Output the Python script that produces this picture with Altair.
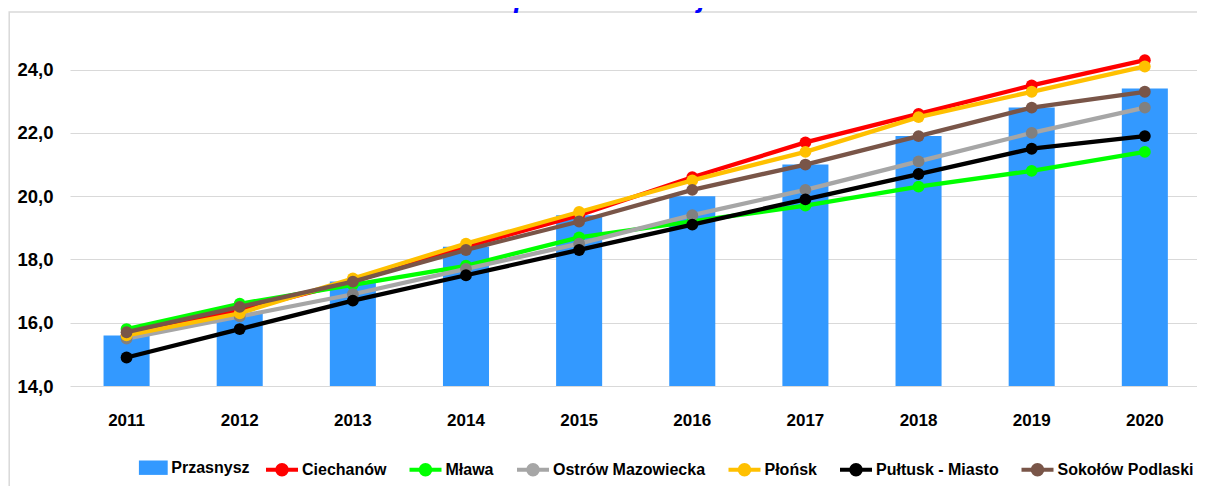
import altair as alt
import pandas as pd

# ---------------- data ----------------
years = ["2011", "2012", "2013", "2014", "2015", "2016", "2017", "2018", "2019", "2020"]
bar_name = "Przasnysz"
line_names = ["Ciechanów", "Mława", "Ostrów Mazowiecka",
              "Płońsk", "Pułtusk - Miasto", "Sokołów Podlaski"]

przasnysz = [15.6, 16.3, 17.3, 18.4, 19.4, 20.0, 21.0, 21.9, 22.8, 23.4]
ciechanow = [15.6, 16.4, 17.3, 18.4, 19.4, 20.6, 21.7, 22.6, 23.5, 24.3]
mlawa = [15.8, 16.6, 17.2, 17.8, 18.7, 19.2, 19.7, 20.3, 20.8, 21.4]
ostrow = [15.5, 16.2, 16.9, 17.7, 18.5, 19.4, 20.2, 21.1, 22.0, 22.8]
plonsk = [15.6, 16.3, 17.4, 18.5, 19.5, 20.5, 21.4, 22.5, 23.3, 24.1]
pultusk = [14.9, 15.8, 16.7, 17.5, 18.3, 19.1, 19.9, 20.7, 21.5, 21.9]
sokolow = [15.7, 16.5, 17.3, 18.3, 19.2, 20.2, 21.0, 21.9, 22.8, 23.3]

line_series = [ciechanow, mlawa, ostrow, plonsk, pultusk, sokolow]

bar_color = "#3399FF"
line_colors = ["#FF0000", "#00FF00", "#A6A6A6", "#FFC000", "#000000", "#795548"]
marker_colors = ["#FF0000", "#00FF00", "#808080", "#FFC000", "#000000", "#795548"]

y_ticks = [14, 16, 18, 20, 22, 24]
y_domain = [14, 25]
title_text = "porównawczej"

FONT = "Liberation Sans, Arial, sans-serif"

# ---------------- scales / axes / legends ----------------
x_scale = alt.Scale(domain=years, range=[0, 1131.4], paddingInner=0.593, paddingOuter=0.2965)
y_scale = alt.Scale(domain=y_domain, nice=False, zero=False)

x_axis = alt.Axis(labelAngle=0, domain=False, ticks=False, grid=False, title=None,
                  labelFont=FONT, labelFontSize=17, labelFontWeight="bold",
                  labelColor="#000000", labelPadding=26)
y_axis = alt.Axis(values=y_ticks, labelExpr="replace(format(datum.value, '.1f'), '.', ',')",
                  grid=True, gridColor="#D9D9D9", gridWidth=1, domain=False, ticks=False,
                  title=None, labelFont=FONT, labelFontSize=18.5, labelFontWeight="bold",
                  labelColor="#000000", labelPadding=17)

square_path = "M-0.9,-0.45H0.9V0.45H-0.9Z"
line_marker_path = ("M-1,0H1 "
                    "M0.3,0A0.3,0.3 0 1,1 -0.3,0A0.3,0.3 0 1,1 0.3,0 "
                    "M0.15,0A0.15,0.15 0 1,1 -0.15,0A0.15,0.15 0 1,1 0.15,0 "
                    "M0.04,0A0.04,0.04 0 1,1 -0.04,0A0.04,0.04 0 1,1 0.04,0")

common_legend = dict(
    title=None, orient="none", direction="horizontal", symbolSize=1024,
    labelFont=FONT, labelFontSize=16, labelFontWeight="bold", labelColor="#000000",
    labelOffset=2, columnPadding=14.5, labelLimit=400, padding=0, symbolOpacity=1,
)
bar_legend = alt.Legend(legendX=67.3, legendY=413.7, symbolType=square_path,
                        symbolStrokeWidth=0, **common_legend)
line_legend = alt.Legend(legendX=194, legendY=413.7, columns=6, symbolType=line_marker_path,
                         symbolStrokeWidth=4, symbolFillColor="transparent", **common_legend)

X = alt.X("year:N", scale=x_scale, axis=x_axis, sort=years)
Y = alt.Y("value:Q", scale=y_scale, axis=y_axis)
F = alt.Fill("series:N", scale=alt.Scale(domain=[bar_name], range=[bar_color]), legend=bar_legend)
S = alt.Stroke("series:N", scale=alt.Scale(domain=line_names, range=line_colors), legend=line_legend)

# ---------------- layers ----------------
frame = alt.Chart(pd.DataFrame({"a": [0]})).mark_rect(
    fill="transparent", stroke="#D9D9D9", strokeWidth=1.5
).encode(x=alt.value(-60.8), x2=alt.value(1300), y=alt.value(-26), y2=alt.value(600))

bar_df = pd.DataFrame({"year": years, "value": przasnysz, "series": bar_name})
bars = alt.Chart(bar_df).mark_bar(opacity=1).encode(x=X, y=Y, y2=alt.datum(14), fill=F)

layers = [frame, bars]
for name, vals, mcol in zip(line_names, line_series, marker_colors):
    df = pd.DataFrame({"year": years, "value": vals, "series": name})
    line = alt.Chart(df).mark_line(strokeWidth=4.3, opacity=1).encode(x=X, y=Y, stroke=S)
    pts = alt.Chart(df).mark_circle(size=140, opacity=1, color=mcol).encode(x=X, y=Y)
    layers += [line, pts]

title = alt.Chart(pd.DataFrame({"t": [title_text]})).mark_text(
    font=FONT, fontSize=28, fontWeight="bold", fontStyle="italic", color="#0000FF",
    align="center", baseline="alphabetic"
).encode(text="t:N", x=alt.value(540), y=alt.value(-31))
layers.append(title)

chart = alt.layer(*layers).properties(
    width=1127, height=348,
    autosize=alt.AutoSizeParams(type="none"),
    padding={"left": 62, "top": 30, "right": 0, "bottom": 100},
    background="white",
).configure_view(stroke=None)

chart.save("out.html", embed_options={"renderer": "svg", "actions": False})
